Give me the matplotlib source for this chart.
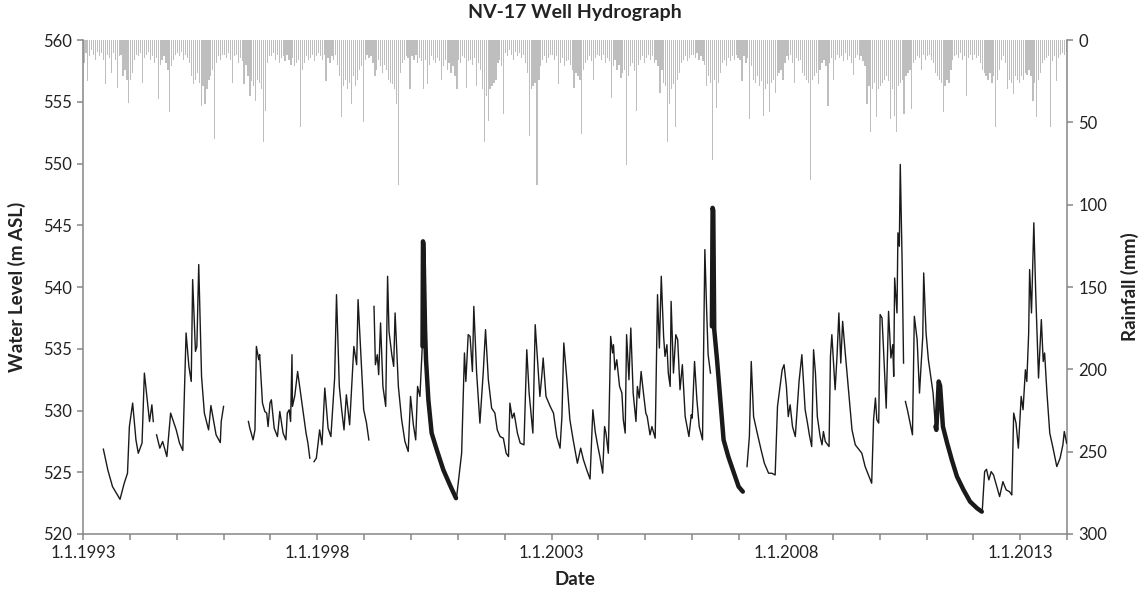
import numpy as np
import matplotlib
matplotlib.use('Agg')
import matplotlib.pyplot as plt
from matplotlib.ticker import MultipleLocator, FixedLocator, FuncFormatter

plt.rcParams['font.family'] = ['Lato', 'DejaVu Sans']

nan = np.nan

# water level, manual readings (decimal year, m ASL), nan = gap
manual_t = [1993.435, 1993.53, 1993.63, 1993.79, 1993.88, 1993.95, 1993.99, 1994.06, 1994.13, 1994.18,
            1994.26, 1994.31, 1994.42, 1994.47, 1994.50, nan,
            1994.57, 1994.64, 1994.70, 1994.79, 1994.87, 1994.99, 1995.06, 1995.13, 1995.20, 1995.26,
            1995.31, 1995.34, 1995.40, 1995.43, 1995.47, 1995.53, 1995.59, 1995.68, 1995.73, 1995.84,
            1995.93, 1995.95, 1996.00, nan,
            1996.53, 1996.56, 1996.63, 1996.67, 1996.70, 1996.75, 1996.77, 1996.83, 1996.88, 1996.92,
            1996.95, 1996.99, 1997.02, 1997.08, 1997.15, 1997.20, 1997.25, 1997.27, 1997.33, 1997.36,
            1997.40, 1997.43, 1997.46, 1997.47, 1997.52, 1997.58, 1997.70, 1997.76, 1997.80, 1997.84, nan,
            1997.93, 1997.98, 1998.05, 1998.10, 1998.16, 1998.23, 1998.29, 1998.34, 1998.37, 1998.41,
            1998.47, 1998.52, 1998.57, 1998.62, 1998.69, 1998.78, 1998.84, 1998.87, 1998.95, 1998.99,
            1999.05, 1999.10, nan,
            1999.21, 1999.24, 1999.28, 1999.31, 1999.35, 1999.40, 1999.46, 1999.50, 1999.53, 1999.59,
            1999.63, 1999.66, 1999.73, 1999.80, 1999.87, 1999.94, 1999.99, 2000.05, 2000.10, 2000.14,
            2000.19, 2000.24, nan,
            2000.97, 2001.08, 2001.14, 2001.17, 2001.22, 2001.26, 2001.31, 2001.34, 2001.40, 2001.47,
            2001.54, 2001.59, 2001.65, 2001.72, 2001.79, 2001.84, 2001.90, 2001.97, 2002.03, 2002.08,
            2002.11, 2002.16, 2002.20, 2002.27, 2002.33, 2002.41, 2002.47, 2002.52, 2002.60, 2002.65,
            2002.69, 2002.75, 2002.79, 2002.82, 2002.88, 2002.97, 2003.04, 2003.11, 2003.18, 2003.22,
            2003.26, 2003.32, 2003.39, 2003.46, 2003.55, 2003.62, 2003.68, 2003.75, 2003.82, 2003.88,
            2003.93, 2003.98, 2004.03, 2004.09, 2004.13, 2004.16, 2004.21, 2004.26, 2004.30, 2004.32,
            2004.35, 2004.39, 2004.45, 2004.50, 2004.53, 2004.57, 2004.60, 2004.65, 2004.69, 2004.74,
            2004.80, 2004.83, 2004.87, 2004.91, 2004.96, 2005.01, 2005.04, 2005.10, 2005.14, 2005.21,
            2005.26, 2005.30, 2005.34, 2005.39, 2005.42, 2005.46, 2005.49, 2005.53, 2005.55, 2005.60,
            2005.65, 2005.69, 2005.74, 2005.79, 2005.85, 2005.93, 2005.98, 2006.00, 2006.05, 2006.10,
            2006.15, 2006.22, 2006.27, 2006.31, 2006.34, 2006.39, nan,
            2007.17, 2007.22, 2007.26, 2007.31, 2007.38, 2007.47, 2007.54, 2007.63, 2007.70, 2007.77,
            2007.82, 2007.86, 2007.92, 2007.96, 2008.01, 2008.05, 2008.09, 2008.14, 2008.20, 2008.28,
            2008.34, 2008.41, 2008.46, 2008.50, 2008.55, 2008.59, 2008.63, 2008.67, 2008.73, 2008.77,
            2008.80, 2008.84, 2008.92, 2008.95, 2008.98, 2009.05, 2009.09, 2009.13, 2009.17, 2009.21,
            2009.26, 2009.36, 2009.41, 2009.48, 2009.62, 2009.69, 2009.76, 2009.83, 2009.87, 2009.91,
            2009.94, 2009.98, 2010.01, 2010.05, 2010.08, 2010.14, 2010.19, 2010.24, 2010.28, 2010.30,
            2010.32, 2010.37, 2010.39, 2010.42, 2010.44, 2010.48, 2010.51, nan,
            2010.55, 2010.60, 2010.65, 2010.70, 2010.74, 2010.80, 2010.85, 2010.92, 2010.94, 2010.99,
            2011.04, 2011.14, 2011.19, nan,
            2012.19, 2012.24, 2012.28, 2012.33, 2012.38, 2012.43, 2012.49, 2012.56, 2012.63, 2012.70,
            2012.77, 2012.82, 2012.86, 2012.91, 2012.96, 2013.02, 2013.06, 2013.11, 2013.14, 2013.18,
            2013.20, 2013.24, 2013.29, 2013.33, 2013.39, 2013.45, 2013.49, 2013.52, 2013.57, 2013.63,
            2013.70, 2013.78, 2013.85, 2013.91, 2013.94, 2013.99]
manual_wl = [526.87, 525.19, 523.84, 522.81, 524.11, 524.92, 528.70, 530.60, 527.62, 526.54,
             527.36, 533.03, 529.11, 530.46, 529.11, nan,
             528.03, 526.95, 527.49, 526.27, 529.79, 528.43, 527.36, 526.76, 536.28, 533.57,
             532.35, 540.60, 534.79, 535.19, 541.82, 532.76, 529.79, 528.43, 530.40, 528.03,
             527.40, 529.11, 530.33, nan,
             529.11, 528.57, 527.62, 528.43, 535.19, 534.11, 534.52, 530.60, 529.92, 529.79,
             528.70, 530.60, 530.87, 528.57, 527.89, 529.92, 528.70, 528.17, 527.62, 529.79,
             530.06, 529.11, 534.52, 530.33, 531.20, 533.16, 529.79, 528.17, 527.36, 526.14, nan,
             525.86, 526.14, 528.43, 527.22, 531.82, 528.57, 527.89, 530.87, 532.63, 539.38,
             531.95, 530.06, 528.43, 531.27, 528.84, 535.19, 533.71, 538.98, 533.03, 530.06,
             528.98, 527.62, nan,
             538.43, 533.71, 534.52, 532.90, 537.09, 531.95, 530.33, 540.87, 536.41, 534.52,
             533.57, 537.90, 531.95, 529.25, 527.49, 526.68, 531.14, 528.84, 527.62, 531.95,
             531.14, 535.19, nan,
             522.90, 526.54, 534.66, 532.35, 536.14, 536.00, 533.16, 538.43, 533.03, 528.98,
             533.03, 536.55, 532.49, 530.19, 529.79, 528.43, 527.89, 527.76, 526.54, 526.27,
             530.60, 529.38, 529.79, 528.17, 527.36, 527.22, 534.92, 531.41, 528.17, 536.95,
             534.66, 531.14, 532.76, 534.25, 531.14, 530.33, 529.79, 527.89, 526.95, 529.51,
             535.47, 532.76, 529.25, 527.62, 525.73, 526.95, 526.00, 525.19, 524.45, 530.06,
             528.30, 527.22, 526.27, 524.92, 528.70, 528.17, 526.54, 536.00, 534.66, 535.33,
             533.30, 534.11, 531.95, 531.41, 529.25, 528.17, 536.14, 532.49, 536.68, 531.41,
             529.11, 531.95, 531.01, 533.16, 531.41, 529.79, 529.51, 528.03, 528.70, 527.76,
             539.38, 535.06, 540.87, 536.00, 534.38, 535.33, 533.03, 531.95, 538.84, 533.03,
             536.14, 535.73, 531.68, 533.71, 529.51, 527.89, 529.65, 529.38, 533.97, 530.87,
             528.70, 527.62, 543.03, 537.90, 534.52, 533.03, nan,
             525.46, 527.89, 533.97, 529.51, 528.30, 526.81, 525.73, 524.92, 524.92, 524.78,
             530.33, 531.54, 533.30, 533.71, 531.95, 529.51, 530.46, 528.70, 527.89, 532.35,
             534.52, 530.06, 528.98, 528.03, 527.08, 534.92, 533.03, 529.51, 527.89, 527.22,
             528.30, 527.49, 527.08, 534.38, 536.14, 531.68, 534.38, 537.90, 533.84, 537.22,
             534.92, 530.60, 528.43, 527.22, 526.54, 525.46, 524.78, 524.11, 529.25, 531.01,
             529.25, 528.98, 537.77, 537.50, 535.19, 530.19, 538.03, 534.25, 535.33, 532.76,
             540.73, 537.90, 544.39, 543.30, 549.93, 541.95, 533.84, nan,
             530.73, 529.92, 528.98, 528.03, 537.63, 535.73, 531.41, 536.00, 541.14, 536.28,
             534.11, 531.41, 528.70, nan,
             521.90, 525.05, 525.24, 524.38, 525.05, 524.78, 523.97, 523.03, 524.24, 523.57,
             523.43, 523.16, 529.79, 528.98, 526.95, 531.14, 530.06, 533.30, 532.35, 536.28,
             541.41, 537.90, 545.20, 539.52, 532.63, 537.36, 533.97, 534.66, 531.41, 528.17,
             526.95, 525.46, 526.14, 527.22, 528.30, 527.36]

# water level, logger records (drawn thick)
logger_t = [2000.245, 2000.255, 2000.265, 2000.30, 2000.32, 2000.37, 2000.44, 2000.55, 2000.69, 2000.83,
            2000.96, nan,
            2006.42, 2006.435, 2006.45, 2006.47, 2006.53, 2006.60, 2006.67, 2006.77, 2006.88, 2006.99,
            2007.08, nan,
            2011.19, 2011.21, 2011.26, 2011.29, 2011.35, 2011.44, 2011.54, 2011.65, 2011.79, 2011.93,
            2012.08, 2012.18]
logger_wl = [535.2, 543.7, 543.5, 536.5, 534.11, 530.87, 528.17, 526.81, 525.19, 523.97,
             522.90, nan,
             536.81, 546.41, 546.2, 536.55, 534.11, 530.87, 527.62, 526.27, 525.05, 523.84,
             523.43, nan,
             528.7, 528.43, 532.35, 532.0, 528.70, 527.36, 526.00, 524.65, 523.57, 522.62,
             522.08, 521.81]

# rainfall (mm), max per half-month, 24 values per year
years = list(range(1993, 2014))
rain = [
    [14, 8, 25, 10, 6, 9, 12, 7, 10, 8, 12, 27, 9, 11, 20, 8, 12, 29, 10, 9, 22, 18, 24, 38],
    [24, 20, 12, 9, 10, 8, 26, 11, 9, 7, 12, 10, 14, 11, 36, 15, 12, 10, 14, 18, 44, 16, 12, 9],
    [8, 10, 7, 12, 9, 11, 14, 22, 27, 24, 20, 26, 40, 28, 39, 30, 24, 22, 18, 60, 14, 10, 12, 9],
    [9, 11, 8, 12, 26, 10, 9, 14, 11, 13, 27, 15, 22, 34, 25, 28, 37, 24, 26, 30, 62, 43, 14, 10],
    [10, 8, 12, 9, 14, 11, 10, 13, 9, 12, 15, 11, 16, 14, 12, 53, 18, 14, 10, 12, 11, 9, 13, 10],
    [8, 10, 12, 9, 25, 11, 14, 10, 12, 9, 15, 22, 47, 28, 24, 30, 26, 39, 22, 28, 24, 18, 16, 50],
    [12, 9, 11, 10, 14, 22, 18, 12, 16, 20, 15, 18, 24, 26, 27, 30, 39, 88, 20, 14, 12, 10, 11, 30],
    [10, 12, 9, 14, 11, 13, 30, 12, 27, 15, 10, 12, 14, 11, 13, 24, 16, 12, 18, 14, 20, 16, 22, 30],
    [12, 14, 10, 11, 29, 13, 12, 15, 11, 28, 14, 18, 30, 62, 34, 49, 30, 28, 26, 24, 14, 12, 16, 45],
    [8, 10, 6, 9, 12, 7, 10, 8, 11, 9, 14, 20, 58, 30, 28, 26, 88, 24, 16, 12, 10, 14, 11, 9],
    [9, 12, 10, 27, 14, 11, 16, 13, 12, 15, 18, 29, 20, 22, 24, 57, 18, 14, 12, 10, 13, 24, 11, 9],
    [10, 12, 9, 14, 11, 13, 35, 16, 12, 18, 15, 23, 20, 18, 76, 22, 16, 14, 19, 43, 15, 12, 10, 14],
    [11, 9, 12, 10, 14, 12, 16, 32, 18, 26, 28, 62, 39, 30, 27, 53, 24, 20, 14, 12, 10, 13, 11, 9],
    [9, 11, 8, 12, 10, 13, 15, 28, 22, 26, 73, 24, 41, 26, 20, 14, 12, 16, 11, 13, 10, 12, 9, 11],
    [12, 25, 10, 14, 11, 48, 16, 24, 26, 22, 28, 25, 46, 30, 27, 44, 26, 24, 32, 22, 20, 18, 24, 14],
    [10, 12, 9, 14, 26, 11, 13, 12, 20, 22, 24, 26, 85, 24, 22, 20, 27, 18, 14, 12, 16, 40, 14, 11],
    [24, 12, 9, 11, 10, 13, 8, 12, 10, 14, 21, 11, 9, 12, 10, 13, 16, 39, 28, 56, 30, 26, 47, 30],
    [28, 26, 24, 22, 25, 48, 30, 46, 56, 28, 26, 24, 45, 22, 20, 18, 42, 14, 12, 10, 11, 18, 9, 12],
    [10, 9, 12, 14, 20, 22, 24, 26, 44, 28, 24, 26, 18, 12, 10, 9, 11, 8, 12, 10, 34, 11, 9, 12],
    [9, 11, 10, 14, 18, 20, 22, 24, 20, 26, 22, 53, 24, 18, 12, 10, 14, 30, 24, 26, 33, 22, 24, 26],
    [22, 24, 20, 21, 18, 22, 37, 26, 47, 24, 20, 14, 12, 11, 10, 53, 13, 10, 25, 11, 9, 8, 9, 7],
]

date_ticks = [1993, 1998, 2003, 2008, 2013]

rain_x = []
rain_v = []
for yr, vals in zip(years, rain):
    for i, v in enumerate(vals):
        rain_x.append(yr + (i + 0.5) / 24)
        rain_v.append(v)

grey = '#868686'

fig = plt.figure(figsize=(11.43, 5.93), dpi=100)
ax = fig.add_axes([0.0726, 0.0995, 0.861, 0.833])
ax2 = ax.twinx()

# rainfall on the right axis, inverted
ax2.bar(rain_x, rain_v, width=1 / 24 * 0.62, color='#bebebe', linewidth=0)
ax2.set_ylim(300, 0)
ax2.yaxis.set_major_locator(MultipleLocator(50))

# water level
ax.plot(manual_t, manual_wl, color='#1a1a1a', linewidth=1.0)
ax.plot(logger_t, logger_wl, color='#1a1a1a', linewidth=3.2, solid_capstyle='round')
ax.set_ylim(520, 560)
ax.set_xlim(1993, 2014)
ax.yaxis.set_major_locator(MultipleLocator(5))
ax.xaxis.set_major_locator(FixedLocator(date_ticks))
ax.xaxis.set_minor_locator(MultipleLocator(1))
ax.xaxis.set_major_formatter(FuncFormatter(lambda v, p: f'1.1.{int(round(v))}'))

ax.set_zorder(ax2.get_zorder() + 1)
ax.patch.set_visible(False)

for a in (ax, ax2):
    a.spines['top'].set_visible(False)
    for s in ('left', 'right', 'bottom'):
        a.spines[s].set_color(grey)
        a.spines[s].set_linewidth(1.1)
    a.tick_params(which='both', direction='out', color=grey, width=1.1, length=4,
                  labelsize=12, labelcolor='#222222', pad=4)
ax.spines['right'].set_visible(False)
ax2.spines['left'].set_visible(False)
ax2.spines['bottom'].set_visible(False)

ax.set_title('NV-17 Well Hydrograph', fontsize=14, fontweight='bold', color='#222222', pad=16)
ax.set_xlabel('Date', fontsize=13.5, fontweight='bold', color='#222222')
ax.set_ylabel('Water Level (m ASL)', fontsize=13.5, fontweight='bold', color='#222222')
ax2.set_ylabel('Rainfall (mm)', fontsize=13.5, fontweight='bold', color='#222222')
ax.xaxis.set_label_coords(0.5, -0.075)
ax.yaxis.set_label_coords(-0.058, 0.5)
ax2.yaxis.set_label_coords(1.055, 0.5)

fig.savefig('out.png', dpi=100)
